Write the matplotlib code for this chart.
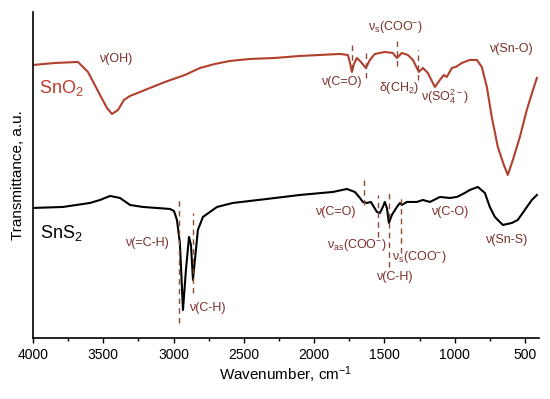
import numpy as np
import matplotlib.pyplot as plt
from matplotlib.ticker import MultipleLocator

plt.rcParams['font.family'] = ['Liberation Sans', 'DejaVu Sans']
plt.rcParams['mathtext.default'] = 'regular'

# SnO2 spectrum (wavenumber, transmittance a.u.)
wn_sno2 = [4000, 3844, 3680, 3609, 3523, 3474, 3438, 3395, 3353, 3310, 3203, 3061,
           2919, 2812, 2706, 2599, 2457, 2279, 2101, 1817, 1760, 1746, 1731, 1717,
           1696, 1667, 1632, 1603, 1568, 1497, 1440, 1411, 1376, 1333, 1297, 1276,
           1255, 1226, 1191, 1141, 1105, 1077, 1056, 1020, 992, 949, 892, 842, 807,
           771, 736, 693, 650, 622, 586, 536, 487, 443, 415]
t_sno2 = [273, 275, 276, 266, 243, 230, 224, 228, 238, 242, 248, 256,
          263, 270, 274, 277, 279, 280, 282, 284, 283, 276, 266, 274,
          280, 276, 270, 278, 284, 286, 285, 280, 285, 283, 278, 272,
          266, 270, 265, 251, 258, 263, 261, 270, 271, 275, 278, 278, 271,
          251, 221, 191, 173, 163, 178, 201, 228, 248, 260]

# SnS2 spectrum
wn_sns2 = [4000, 3787, 3595, 3523, 3452, 3381, 3310, 3218, 3026, 2997, 2976, 2955,
           2933, 2912, 2890, 2876, 2862, 2841, 2827, 2791, 2741, 2691, 2578, 2336,
           2101, 1866, 1767, 1710, 1674, 1653, 1625, 1596, 1553, 1532, 1511, 1497,
           1482, 1468, 1447, 1411, 1390, 1376, 1340, 1269, 1226, 1176, 1105, 1034,
           984, 928, 892, 835, 785, 750, 714, 657, 593, 551, 501, 451, 415]
t_sns2 = [130, 131, 135, 138, 142, 140, 133, 131, 129, 127, 118, 95,
          28, 68, 101, 93, 58, 88, 108, 121, 126, 131, 135, 139,
          143, 146, 149, 146, 140, 136, 135, 136, 126, 125, 131, 136,
          130, 115, 123, 131, 135, 133, 136, 136, 138, 136, 141, 140,
          141, 145, 148, 151, 145, 131, 121, 113, 115, 118, 128, 138, 143]

# band markers: wavenumber, lower, upper
mark_wn = [1731, 1632, 1411, 1262, 2962, 2862, 1646, 1546, 1468, 1383]
mark_lo = [268, 260, 272, 258, 15, 45, 133, 101, 71, 85]
mark_hi = [296, 288, 301, 288, 140, 125, 158, 143, 145, 141]

# band labels
lab_txt = ['ν(OH)', 'ν(C=O)', r'ν$_s$(COO$^{-}$)', r'δ(CH$_2$)',
           r'ν(SO$_4^{2-}$)', 'ν(Sn-O)',
           'ν(=C-H)', 'ν(C-H)', 'ν(C=O)', r'ν$_{as}$(COO$^{-}$)',
           r'ν$_s$(COO$^{-}$)', 'ν(C-H)', 'ν(C-O)', 'ν(Sn-S)']
lab_wn = [3410, 1809, 1425, 1397, 1070, 600, 3189, 2762, 1852, 1696, 1248, 1433, 1034, 636]
lab_t = [279, 256, 311, 250, 241, 289, 95, 30, 126, 93, 81, 61, 126, 98]

red = '#b0402c'
lab_col = '#7a2f2b'

fig = plt.figure(figsize=(5.5, 3.99), dpi=100)
ax = fig.add_axes([0.06, 0.153, 0.92, 0.817])

ax.plot(wn_sno2, t_sno2, color=red, lw=1.5)
ax.plot(wn_sns2, t_sns2, color='black', lw=1.5)

for w, lo, hi in zip(mark_wn, mark_lo, mark_hi):
    ax.plot([w, w], [lo, hi], color='#8a4a3a', lw=1.0, ls=(0, (4, 3)))

for s, w, t in zip(lab_txt, lab_wn, lab_t):
    ax.text(w, t, s, color=lab_col, fontsize=9, ha='center', va='center')

ax.text(3957, 250, r'SnO$_2$', color='#c0392b', fontsize=13, ha='left', va='center')
ax.text(3950, 105, r'SnS$_2$', color='black', fontsize=13, ha='left', va='center')

ax.set_xlim(4000, 400)
ax.set_ylim(0, 326)
ax.spines['top'].set_visible(False)
ax.spines['right'].set_visible(False)
ax.spines['left'].set_linewidth(1.2)
ax.spines['bottom'].set_linewidth(1.2)
ax.set_yticks([])
ax.xaxis.set_major_locator(MultipleLocator(500))
ax.xaxis.set_minor_locator(MultipleLocator(250))
ax.tick_params(axis='x', which='major', direction='out', length=3.5, width=1, labelsize=10)
ax.tick_params(axis='x', which='minor', direction='out', length=2.5, width=1)
ax.set_xlabel(r'Wavenumber, cm$^{-1}$', fontsize=11, labelpad=2)
ax.set_ylabel('Transmittance, a.u.', fontsize=11, labelpad=6)

fig.savefig('out.png', dpi=100)
